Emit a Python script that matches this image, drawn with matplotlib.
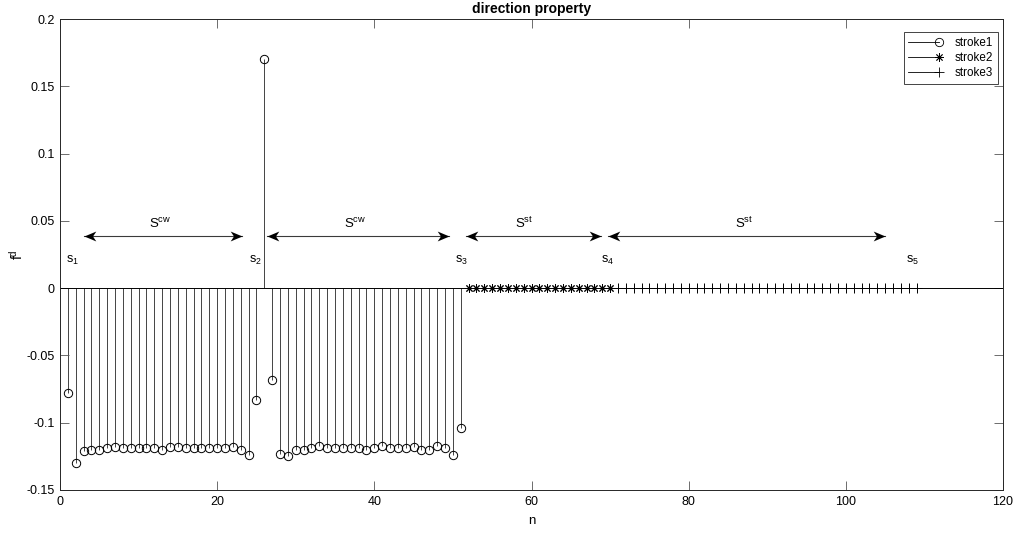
import matplotlib.pyplot as plt
from matplotlib.lines import Line2D
from matplotlib.legend_handler import HandlerLine2D
from matplotlib.path import Path
import numpy as np

plt.rcParams['font.family'] = ['Liberation Sans', 'DejaVu Sans']
plt.rcParams['mathtext.fontset'] = 'custom'
plt.rcParams['mathtext.rm'] = 'Liberation Sans'
plt.rcParams['mathtext.it'] = 'Liberation Sans'
plt.rcParams['mathtext.default'] = 'regular'

# stroke1 values, n = 1..51
stroke1_y = [
    -0.078, -0.130, -0.121, -0.120, -0.120, -0.119, -0.118, -0.119, -0.119, -0.119,
    -0.119, -0.119, -0.120, -0.118, -0.118, -0.119, -0.119, -0.119, -0.119, -0.119,
    -0.119, -0.118, -0.120, -0.124, -0.083, 0.170, -0.068, -0.123, -0.125, -0.120,
    -0.120, -0.119, -0.117, -0.119, -0.119, -0.119, -0.119, -0.119, -0.120, -0.119,
    -0.117, -0.119, -0.119, -0.119, -0.118, -0.120, -0.120, -0.117, -0.119, -0.124,
    -0.104,
]
stroke1_n = list(range(1, 52))
stroke2_n = list(range(52, 71))
stroke2_y = [0.0] * len(stroke2_n)
stroke3_n = list(range(71, 110))
stroke3_y = [0.0] * len(stroke3_n)

# segment boundaries s1..s5 and arrows between them
seg_labels = ['s$_1$', 's$_2$', 's$_3$', 's$_4$', 's$_5$']
seg_x = [0.7, 24.1, 50.3, 68.8, 107.6]
arrows = [(3.1, 23.2), (26.3, 49.5), (51.7, 68.8), (69.7, 105.0)]
arrow_labels = ['S$^{cw}$', 'S$^{cw}$', 'S$^{st}$', 'S$^{st}$']
arrow_label_x = [12.7, 37.5, 59.1, 87.1]
arrow_y = 0.039

# matlab-like arrow head (tip at origin, pointing right)
head_r = Path([(0, 0), (-1, 0.42), (-0.72, 0), (-1, -0.42), (0, 0)],
              [Path.MOVETO, Path.LINETO, Path.LINETO, Path.LINETO, Path.CLOSEPOLY])
head_l = Path([(0, 0), (1, 0.42), (0.72, 0), (1, -0.42), (0, 0)],
              [Path.MOVETO, Path.LINETO, Path.LINETO, Path.LINETO, Path.CLOSEPOLY])


class EndMarkerHandler(HandlerLine2D):
    # line with the marker at its right end, like the matlab legend
    def create_artists(self, legend, orig_handle, xdescent, ydescent,
                       width, height, fontsize, trans):
        y = height / 2 - ydescent
        x0, x1 = -xdescent, -xdescent + width
        ln = Line2D([x0, x1], [y, y], color='black', lw=0.6)
        mk = Line2D([x1], [y], ls='none', marker=orig_handle.get_marker(),
                    ms=orig_handle.get_markersize(), mfc='none', mec='black',
                    mew=0.6)
        ln.set_transform(trans)
        mk.set_transform(trans)
        return [ln, mk]


fig = plt.figure(figsize=(10.22, 5.33), dpi=100)
ax = fig.add_axes([60 / 1022, 1 - 490 / 533, 943 / 1022, 471 / 533])

# baseline
ax.axhline(0, color='black', lw=0.7, zorder=2)

# stems
ax.vlines(stroke1_n, 0, stroke1_y, color='#444444', lw=0.7, zorder=1)
ax.plot(stroke1_n, stroke1_y, ls='none', marker='o', ms=6, mfc='none',
        mec='black', mew=0.7, zorder=3)
ax.plot(stroke2_n, stroke2_y, ls='none', marker=(8, 2, 0), ms=6,
        mec='black', mew=0.7, zorder=3)
ax.plot(stroke3_n, stroke3_y, ls='none', marker='+', ms=6.5,
        mec='black', mew=0.7, zorder=3)

# annotations
for lab, x in zip(seg_labels, seg_x):
    ax.text(x, 0.0185, lab, fontsize=9, ha='left', va='baseline')

for (x0, x1), lab, lx in zip(arrows, arrow_labels, arrow_label_x):
    ax.plot([x0, x1], [arrow_y, arrow_y], color='#3a3a3a', lw=0.8, zorder=2)
    ax.plot([x1], [arrow_y], ls='none', marker=head_r, ms=17, color='black',
            mew=0, zorder=3)
    ax.plot([x0], [arrow_y], ls='none', marker=head_l, ms=17, color='black',
            mew=0, zorder=3)
    ax.text(lx, 0.0448, lab, fontsize=9.5, ha='center', va='baseline')

ax.set_xlim(0, 120)
ax.set_ylim(-0.15, 0.2)
ax.set_xticks(np.arange(0, 121, 20))
ax.set_yticks([-0.15, -0.1, -0.05, 0, 0.05, 0.1, 0.15, 0.2])
ax.set_yticklabels(['-0.15', '-0.1', '-0.05', '0', '0.05', '0.1', '0.15', '0.2'])
ax.tick_params(direction='in', top=True, right=True, length=6.5, width=0.6,
               labelsize=9, colors='#555555', labelcolor='black', pad=4)
for sp in ax.spines.values():
    sp.set_linewidth(0.7)
    sp.set_color('#262626')

ax.set_xlabel('n', fontsize=9.5, labelpad=5)
ax.set_ylabel('f$^{d}$', fontsize=10, labelpad=0)
ax.set_title('direction property', fontsize=10, fontweight='bold', pad=4)

handles = [
    Line2D([], [], marker='o', ms=6),
    Line2D([], [], marker=(8, 2, 0), ms=6),
    Line2D([], [], marker='+', ms=6.5),
]
leg = ax.legend(handles, ['stroke1', 'stroke2', 'stroke3'], loc='upper right',
                bbox_to_anchor=(998 / 1022, 1 - 32 / 533),
                bbox_transform=fig.transFigure, borderaxespad=0,
                handler_map={Line2D: EndMarkerHandler()},
                fontsize=8.4, fancybox=False, edgecolor='#262626', framealpha=1,
                handlelength=2.6, handletextpad=1.4, labelspacing=0.28,
                borderpad=0.4)
leg.get_frame().set_linewidth(0.6)

fig.savefig('out.png', dpi=100)
